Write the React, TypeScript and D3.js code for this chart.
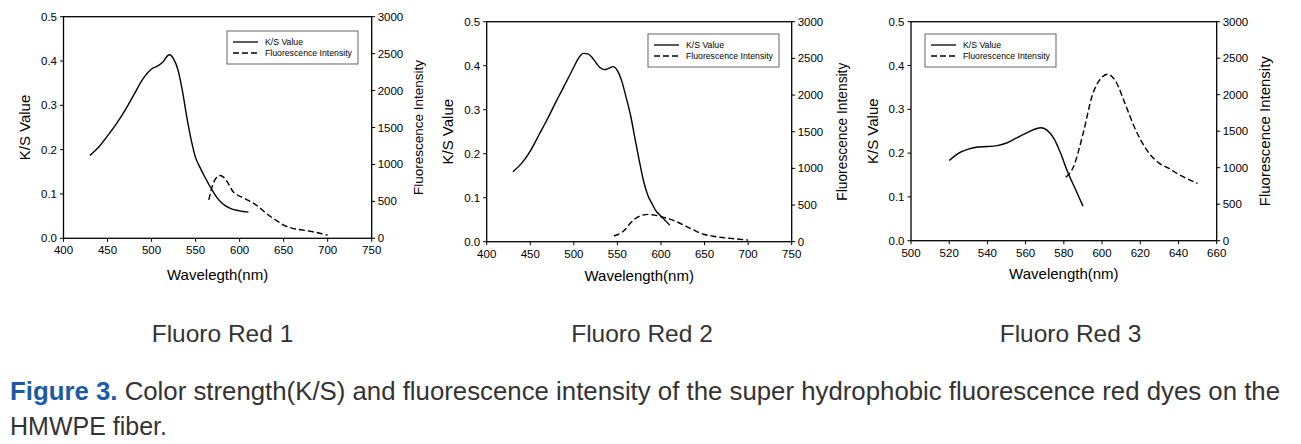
import React from "react";
import * as d3 from "d3";

type Pt = [number, number];

// ---- data ----
const ksRed1: Pt[] = [[430,0.187],[440,0.206],[450,0.231],[460,0.258],[470,0.289],[480,0.324],[490,0.359],[500,0.382],[506,0.388],[513,0.398],[520,0.414],[525,0.405],[530,0.38],[535,0.333],[540,0.274],[545,0.222],[550,0.182],[555,0.16],[560,0.14],[565,0.122],[570,0.105],[575,0.09],[580,0.079],[590,0.067],[600,0.062],[610,0.059]];
const flRed1: Pt[] = [[565,520],[570,740],[575,835],[578,850],[582,825],[587,745],[592,640],[597,590],[602,560],[608,525],[615,480],[622,420],[630,340],[640,255],[650,180],[660,135],[670,115],[680,95],[690,72],[700,42]];

const ksRed2: Pt[] = [[430,0.159],[440,0.178],[450,0.206],[460,0.243],[470,0.28],[480,0.32],[490,0.358],[500,0.397],[505,0.416],[511,0.428],[516,0.427],[520,0.421],[526,0.405],[530,0.396],[535,0.391],[540,0.394],[545,0.398],[550,0.389],[555,0.365],[560,0.328],[565,0.288],[570,0.236],[575,0.185],[580,0.138],[585,0.105],[590,0.085],[595,0.068],[600,0.058],[610,0.038]];
const flRed2: Pt[] = [[546,78],[550,95],[555,125],[560,180],[565,255],[570,310],[575,345],[580,365],[585,373],[590,368],[600,342],[610,308],[620,262],[630,203],[640,145],[650,98],[660,75],[670,58],[680,45],[690,33],[700,22]];

const ksRed3: Pt[] = [[520,0.183],[525,0.2],[530,0.209],[535,0.214],[540,0.215],[545,0.217],[550,0.223],[555,0.234],[560,0.245],[565,0.255],[568,0.258],[571,0.253],[575,0.232],[578,0.203],[582,0.157],[586,0.118],[590,0.079]];
const flRed3: Pt[] = [[581,870],[585,1010],[590,1460],[595,2000],[600,2240],[603,2280],[607,2190],[612,1880],[617,1550],[620,1390],[625,1185],[630,1060],[635,990],[640,910],[645,843],[650,785]];

const xTicksWide = [400, 450, 500, 550, 600, 650, 700, 750];
const xTicksNarrow = [500, 520, 540, 560, 580, 600, 620, 640, 660];
const ksTicks = [0, 0.1, 0.2, 0.3, 0.4, 0.5];
const flTicks = [0, 500, 1000, 1500, 2000, 2500, 3000];

const xTitles = ["Wavelegth(nm)", "Wavelength(nm)", "Wavelength(nm)"];
const panelNames = ["Fluoro Red 1", "Fluoro Red 2", "Fluoro Red 3"];
const legendLabels = ["K/S Value", "Fluorescence Intensity"];
const captionBold = "Figure 3.";
const captionLine1 = " Color strength(K/S) and fluorescence intensity of the super hydrophobic fluorescence red dyes on the";
const captionLine2 = "HMWPE fiber.";

// ---- layout ----
const panels = [
  { ks: ksRed1, fl: flRed1, xTicks: xTicksWide, xDom: [400, 750], left: 63.5, right: 371.7, top: 16.7, bottom: 238.3,
    legX: 227, legY: 31, yTitleX: 25, rTitleX: 418, xTitleY: 280, rTitleSize: 13.5 },
  { ks: ksRed2, fl: flRed2, xTicks: xTicksWide, xDom: [400, 750], left: 486.7, right: 791.7, top: 21.7, bottom: 241.7,
    legX: 648, legY: 34, yTitleX: 448, rTitleX: 842, xTitleY: 281, rTitleSize: 13.8 },
  { ks: ksRed3, fl: flRed3, xTicks: xTicksNarrow, xDom: [500, 660], left: 911, right: 1216.7, top: 21.7, bottom: 240.7,
    legX: 925, legY: 34, yTitleX: 873, rTitleX: 1265, xTitleY: 279, rTitleSize: 15 },
];

const FONT = "'Liberation Sans', Arial, Helvetica, sans-serif";

function Panel({ p, idx }: { p: any; idx: number }) {
  const x = d3.scaleLinear().domain(p.xDom).range([p.left, p.right]);
  const yL = d3.scaleLinear().domain([0, 0.5]).range([p.bottom, p.top]);
  const yR = d3.scaleLinear().domain([0, 3000]).range([p.bottom, p.top]);
  const ksLine = d3.line<Pt>().x(d => x(d[0])).y(d => yL(d[1])).curve(d3.curveMonotoneX);
  const flLine = d3.line<Pt>().x(d => x(d[0])).y(d => yR(d[1])).curve(d3.curveMonotoneX);
  const tick = 3.5;
  const cy = (p.top + p.bottom) / 2;
  const cx = (p.left + p.right) / 2;
  return (
    <g fontFamily={FONT} fill="#000">
      <rect x={p.left} y={p.top} width={p.right - p.left} height={p.bottom - p.top} fill="none" stroke="#000" strokeWidth={1.3} />
      {p.xTicks.map((t: number) => (
        <g key={"x" + t}>
          <line x1={x(t)} x2={x(t)} y1={p.bottom} y2={p.bottom + tick} stroke="#000" strokeWidth={1} />
          <text x={x(t)} y={p.bottom + 16} textAnchor="middle" fontSize={11.5}>{t}</text>
        </g>
      ))}
      {ksTicks.map(t => (
        <g key={"l" + t}>
          <line x1={p.left - tick} x2={p.left} y1={yL(t)} y2={yL(t)} stroke="#000" strokeWidth={1} />
          <text x={p.left - 6.5} y={yL(t) + 4} textAnchor="end" fontSize={11.5}>{t.toFixed(1)}</text>
        </g>
      ))}
      {flTicks.map(t => (
        <g key={"r" + t}>
          <line x1={p.right} x2={p.right + tick} y1={yR(t)} y2={yR(t)} stroke="#000" strokeWidth={1} />
          <text x={p.right + 6} y={yR(t) + 4} textAnchor="start" fontSize={11.5}>{t}</text>
        </g>
      ))}
      <text transform={`translate(${p.yTitleX + 5},${cy}) rotate(-90)`} textAnchor="middle" fontSize={15}>K/S Value</text>
      <text transform={`translate(${p.rTitleX + 5},${cy}) rotate(-90)`} textAnchor="middle" fontSize={p.rTitleSize}>Fluorescence Intensity</text>
      <text x={cx} y={p.xTitleY} textAnchor="middle" fontSize={15}>{xTitles[idx]}</text>
      <path d={ksLine(p.ks) || ""} fill="none" stroke="#000" strokeWidth={1.4} />
      <path d={flLine(p.fl) || ""} fill="none" stroke="#000" strokeWidth={1.4} strokeDasharray="6,3" />
      <rect x={p.legX} y={p.legY} width={131} height={33} fill="#fff" stroke="#555" strokeWidth={0.9} />
      <line x1={p.legX + 6} x2={p.legX + 31} y1={p.legY + 11} y2={p.legY + 11} stroke="#000" strokeWidth={1.3} />
      <line x1={p.legX + 6} x2={p.legX + 31} y1={p.legY + 22} y2={p.legY + 22} stroke="#000" strokeWidth={1.3} strokeDasharray="6,3" />
      <text x={p.legX + 38} y={p.legY + 14} fontSize={8.7}>{legendLabels[0]}</text>
      <text x={p.legX + 38} y={p.legY + 25} fontSize={8.7}>{legendLabels[1]}</text>
    </g>
  );
}

export default function App() {
  const nameX = [222.5, 642, 1070.5];
  return (
    <svg width={1301} height={444} style={{ position: "absolute", left: 0, top: 0, display: "block", background: "#fff" }}>
      <rect x={0} y={0} width={1301} height={444} fill="#fff" />
      {panels.map((p, i) => <Panel key={i} p={p} idx={i} />)}
      {panelNames.map((n, i) => (
        <text key={n} x={nameX[i]} y={342} textAnchor="middle" fontFamily={FONT} fontSize={24.5} fill="#333">{n}</text>
      ))}
      <text x={10} y={400} fontFamily={FONT} fontSize={25} fill="#333" textLength={1270} lengthAdjust="spacingAndGlyphs">
        <tspan fontWeight="bold" fill="#1b5aa6">{captionBold}</tspan>
        <tspan>{captionLine1}</tspan>
      </text>
      <text x={10} y={435} fontFamily={FONT} fontSize={25} fill="#333">{captionLine2}</text>
    </svg>
  );
}
